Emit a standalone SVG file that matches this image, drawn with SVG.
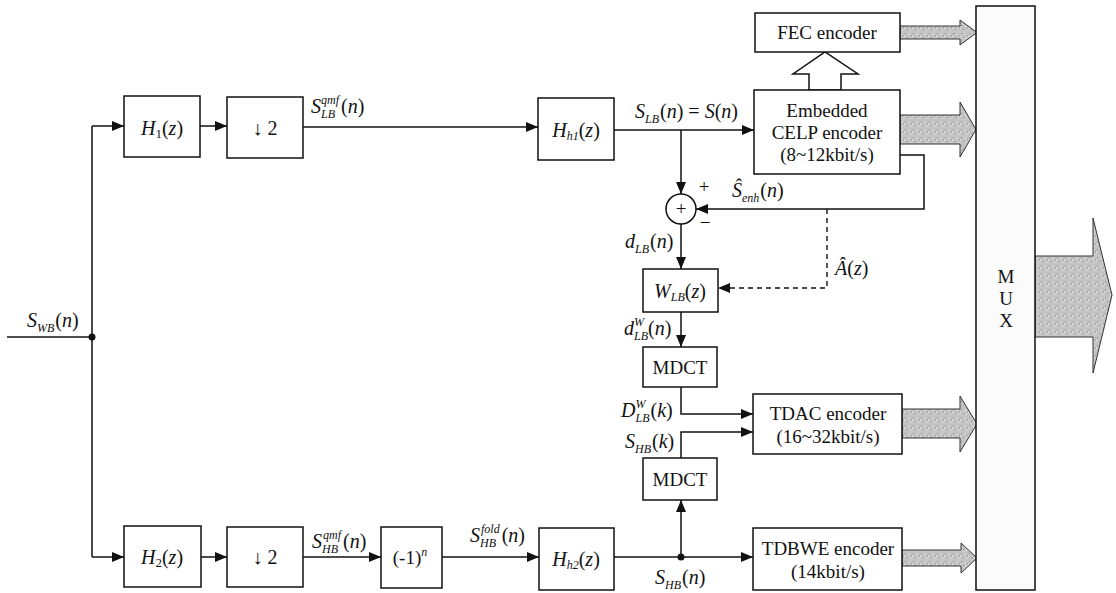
<svg xmlns="http://www.w3.org/2000/svg" width="1116" height="593" viewBox="0 0 1116 593">
<style>
.box{fill:#fff;stroke:#111;stroke-width:1.5}
.ln{fill:none;stroke:#111;stroke-width:1.5}
.dash{fill:none;stroke:#111;stroke-width:1.4;stroke-dasharray:5,4}
.t{font-family:"Liberation Serif",serif;font-size:19px;fill:#111}
.m{font-family:"Liberation Serif",serif;font-size:20px;fill:#111}
.i{font-style:italic}
.s{font-size:12px;font-style:italic}
.ga{fill:url(#speck);stroke:#333;stroke-width:1}
</style>
<defs>
<marker id="ar" viewBox="0 0 12 10" refX="12" refY="5" markerWidth="12" markerHeight="10" markerUnits="userSpaceOnUse" orient="auto">
<path d="M0,0 L12,5 L0,10 z" fill="#111"/>
</marker>
<pattern id="speck" width="8" height="8" patternUnits="userSpaceOnUse">
<rect width="8" height="8" fill="#c4c4c4"/>
<rect x="1" y="1" width="1" height="1" fill="#858585"/>
<rect x="5" y="2" width="1" height="1" fill="#e8e8e8"/>
<rect x="3" y="5" width="1" height="1" fill="#8e8e8e"/>
<rect x="6" y="6" width="1" height="1" fill="#e2e2e2"/>
<rect x="0" y="4" width="1" height="1" fill="#e4e4e4"/>
<rect x="7" y="3" width="1" height="1" fill="#969696"/>
</pattern>
</defs>

<g id="connectors">
<path class="ln" d="M7,337 H92"/>
<path class="ln" d="M92,126 V557"/>
<circle cx="92" cy="337" r="3.5" fill="#111"/>
<path class="ln" d="M92,126 H124" marker-end="url(#ar)"/>
<path class="ln" d="M200,126 H227" marker-end="url(#ar)"/>
<path class="ln" d="M303,127 H538" marker-end="url(#ar)"/>
<path class="ln" d="M614,130 H754" marker-end="url(#ar)"/>
<path class="ln" d="M681,130 V194" marker-end="url(#ar)"/>
<path class="ln" d="M900,155 H924 V209 H696" marker-end="url(#ar)"/>
<path class="ln" d="M681,224 V269" marker-end="url(#ar)"/>
<path class="dash" d="M827,209 V288 H718" marker-end="url(#ar)"/>
<path class="ln" d="M681,312 V347" marker-end="url(#ar)"/>
<path class="ln" d="M681,387 V414 H753" marker-end="url(#ar)"/>
<path class="ln" d="M681,458 V432 H753" marker-end="url(#ar)"/>
<path class="ln" d="M92,557 H124" marker-end="url(#ar)"/>
<path class="ln" d="M201,557 H227" marker-end="url(#ar)"/>
<path class="ln" d="M303,557 H381" marker-end="url(#ar)"/>
<path class="ln" d="M442,557 H539" marker-end="url(#ar)"/>
<path class="ln" d="M614,557 H753" marker-end="url(#ar)"/>
<circle cx="681" cy="557" r="3.5" fill="#111"/>
<path class="ln" d="M681,557 V500" marker-end="url(#ar)"/>
<polygon class="box" points="809,90 809,74 793,74 825,52 858,74 841,74 841,90"/>
<polygon class="ga" points="900,26 960,26 960,20 977,32.5 960,45 960,39 900,39"/>
<polygon class="ga" points="900,115 960,115 960,102 976,129.5 960,157 960,144 900,144"/>
<polygon class="ga" points="902,409 960,409 960,396 977,424 960,452 960,438 902,438"/>
<polygon class="ga" points="902,550 961,550 961,543 977,558 961,573 961,566 902,566"/>
<polygon class="ga" points="1035,256 1093,256 1093,218 1112,295 1093,373 1093,337 1035,337"/>
</g>

<g id="H1">
<rect class="box" x="124" y="96" width="76" height="61"/>
<text class="m" x="162" y="135" text-anchor="middle"><tspan class="i">H</tspan><tspan font-size="13" dy="3">1</tspan><tspan dy="-3">(</tspan><tspan class="i">z</tspan>)</text>
</g>
<g id="down1">
<rect class="box" x="227" y="97" width="76" height="61"/>
<text class="m" x="265" y="135" text-anchor="middle">↓ 2</text>
</g>
<g id="Hh1">
<rect class="box" x="538" y="98" width="76" height="62"/>
<text class="m" x="576" y="137" text-anchor="middle"><tspan class="i">H</tspan><tspan class="s" dy="3">h1</tspan><tspan dy="-3">(</tspan><tspan class="i">z</tspan>)</text>
</g>
<g id="FEC">
<rect class="box" x="755" y="13" width="145" height="39"/>
<text class="t" x="827" y="39" text-anchor="middle">FEC encoder</text>
</g>
<g id="CELP">
<rect class="box" x="754" y="90" width="146" height="84"/>
<text class="t" x="827" y="117" text-anchor="middle">Embedded</text>
<text class="t" x="827" y="139" text-anchor="middle">CELP encoder</text>
<text class="t" x="827" y="161" text-anchor="middle">(8~12kbit/s)</text>
</g>
<g id="sum">
<circle cx="681" cy="209" r="15" fill="#fff" stroke="#111" stroke-width="1.5"/>
<text class="t" x="681" y="215" text-anchor="middle" font-size="17">+</text>
<text class="t" x="704" y="193" text-anchor="middle" font-size="14">+</text>
<text class="t" x="705" y="229" text-anchor="middle" font-size="16">−</text>
</g>
<g id="WLB">
<rect class="box" x="643" y="269" width="75" height="43"/>
<text class="m" x="680" y="298" text-anchor="middle"><tspan class="i">W</tspan><tspan class="s" dy="3">LB</tspan><tspan dy="-3">(</tspan><tspan class="i">z</tspan>)</text>
</g>
<g id="MDCT1">
<rect class="box" x="643" y="347" width="74" height="40"/>
<text class="t" x="680" y="374" text-anchor="middle">MDCT</text>
</g>
<g id="MDCT2">
<rect class="box" x="643" y="458" width="74" height="42"/>
<text class="t" x="680" y="486" text-anchor="middle">MDCT</text>
</g>
<g id="TDAC">
<rect class="box" x="753" y="394" width="149" height="60"/>
<text class="t" x="828" y="420" text-anchor="middle">TDAC encoder</text>
<text class="t" x="828" y="443" text-anchor="middle">(16~32kbit/s)</text>
</g>
<g id="TDBWE">
<rect class="box" x="753" y="528" width="149" height="62"/>
<text class="t" x="828" y="555" text-anchor="middle">TDBWE encoder</text>
<text class="t" x="828" y="578" text-anchor="middle">(14kbit/s)</text>
</g>
<g id="H2">
<rect class="box" x="124" y="526" width="77" height="61"/>
<text class="m" x="162" y="564" text-anchor="middle"><tspan class="i">H</tspan><tspan font-size="13" dy="3">2</tspan><tspan dy="-3">(</tspan><tspan class="i">z</tspan>)</text>
</g>
<g id="down2">
<rect class="box" x="227" y="527" width="76" height="60"/>
<text class="m" x="265" y="564" text-anchor="middle">↓ 2</text>
</g>
<g id="neg">
<rect class="box" x="381" y="527" width="61" height="61"/>
<text class="t" x="410" y="564" text-anchor="middle" font-size="17">(-1)<tspan class="s" dy="-8">n</tspan></text>
</g>
<g id="Hh2">
<rect class="box" x="539" y="528" width="75" height="62"/>
<text class="m" x="576" y="566" text-anchor="middle"><tspan class="i">H</tspan><tspan class="s" dy="3">h2</tspan><tspan dy="-3">(</tspan><tspan class="i">z</tspan>)</text>
</g>
<g id="MUX">
<rect x="976" y="6" width="59" height="584" fill="#fbfbfb" stroke="#111" stroke-width="1.5"/>
<text class="t" x="1006" y="283" text-anchor="middle">M</text>
<text class="t" x="1006" y="305" text-anchor="middle">U</text>
<text class="t" x="1006" y="327" text-anchor="middle">X</text>
</g>

<g id="labels">
<text class="m" x="27" y="327"><tspan class="i">S</tspan><tspan class="s" dy="5">WB</tspan><tspan dy="-5" dx="1">(</tspan><tspan class="i">n</tspan>)</text>
<text class="m" x="311" y="113"><tspan class="i">S</tspan><tspan class="s" dy="5">LB</tspan><tspan class="s" dx="-14" dy="-14">qmf</tspan><tspan dy="9" dx="2">(</tspan><tspan class="i">n</tspan>)</text>
<text class="m" x="635" y="118"><tspan class="i">S</tspan><tspan class="s" dy="5">LB</tspan><tspan dy="-5" dx="1">(</tspan><tspan class="i">n</tspan>) = <tspan class="i">S</tspan>(<tspan class="i">n</tspan>)</text>
<text class="m" x="732" y="197"><tspan class="i">Ŝ</tspan><tspan class="s" dy="5">enh</tspan><tspan dy="-5" dx="1">(</tspan><tspan class="i">n</tspan>)</text>
<text class="m" x="625" y="248"><tspan class="i">d</tspan><tspan class="s" dy="5">LB</tspan><tspan dy="-5" dx="1">(</tspan><tspan class="i">n</tspan>)</text>
<text class="m" x="835" y="275"><tspan class="i">Â</tspan>(<tspan class="i">z</tspan>)</text>
<text class="m" x="624" y="335"><tspan class="i">d</tspan><tspan class="s" dy="5">LB</tspan><tspan class="s" dx="-14" dy="-14">W</tspan><tspan dy="9" dx="4">(</tspan><tspan class="i">n</tspan>)</text>
<text class="m" x="621" y="417"><tspan class="i">D</tspan><tspan class="s" dy="5">LB</tspan><tspan class="s" dx="-14" dy="-14">W</tspan><tspan dy="9" dx="5">(</tspan><tspan class="i">k</tspan>)</text>
<text class="m" x="625" y="448"><tspan class="i">S</tspan><tspan class="s" dy="5">HB</tspan><tspan dy="-5" dx="1">(</tspan><tspan class="i">k</tspan>)</text>
<text class="m" x="312" y="548"><tspan class="i">S</tspan><tspan class="s" dy="5">HB</tspan><tspan class="s" dx="-15" dy="-14">qmf</tspan><tspan dy="9" dx="2">(</tspan><tspan class="i">n</tspan>)</text>
<text class="m" x="470" y="542"><tspan class="i">S</tspan><tspan class="s" dy="5">HB</tspan><tspan class="s" dx="-15" dy="-14">fold</tspan><tspan dy="9" dx="2">(</tspan><tspan class="i">n</tspan>)</text>
<text class="m" x="655" y="584"><tspan class="i">S</tspan><tspan class="s" dy="5">HB</tspan><tspan dy="-5" dx="1">(</tspan><tspan class="i">n</tspan>)</text>
</g>
</svg>
